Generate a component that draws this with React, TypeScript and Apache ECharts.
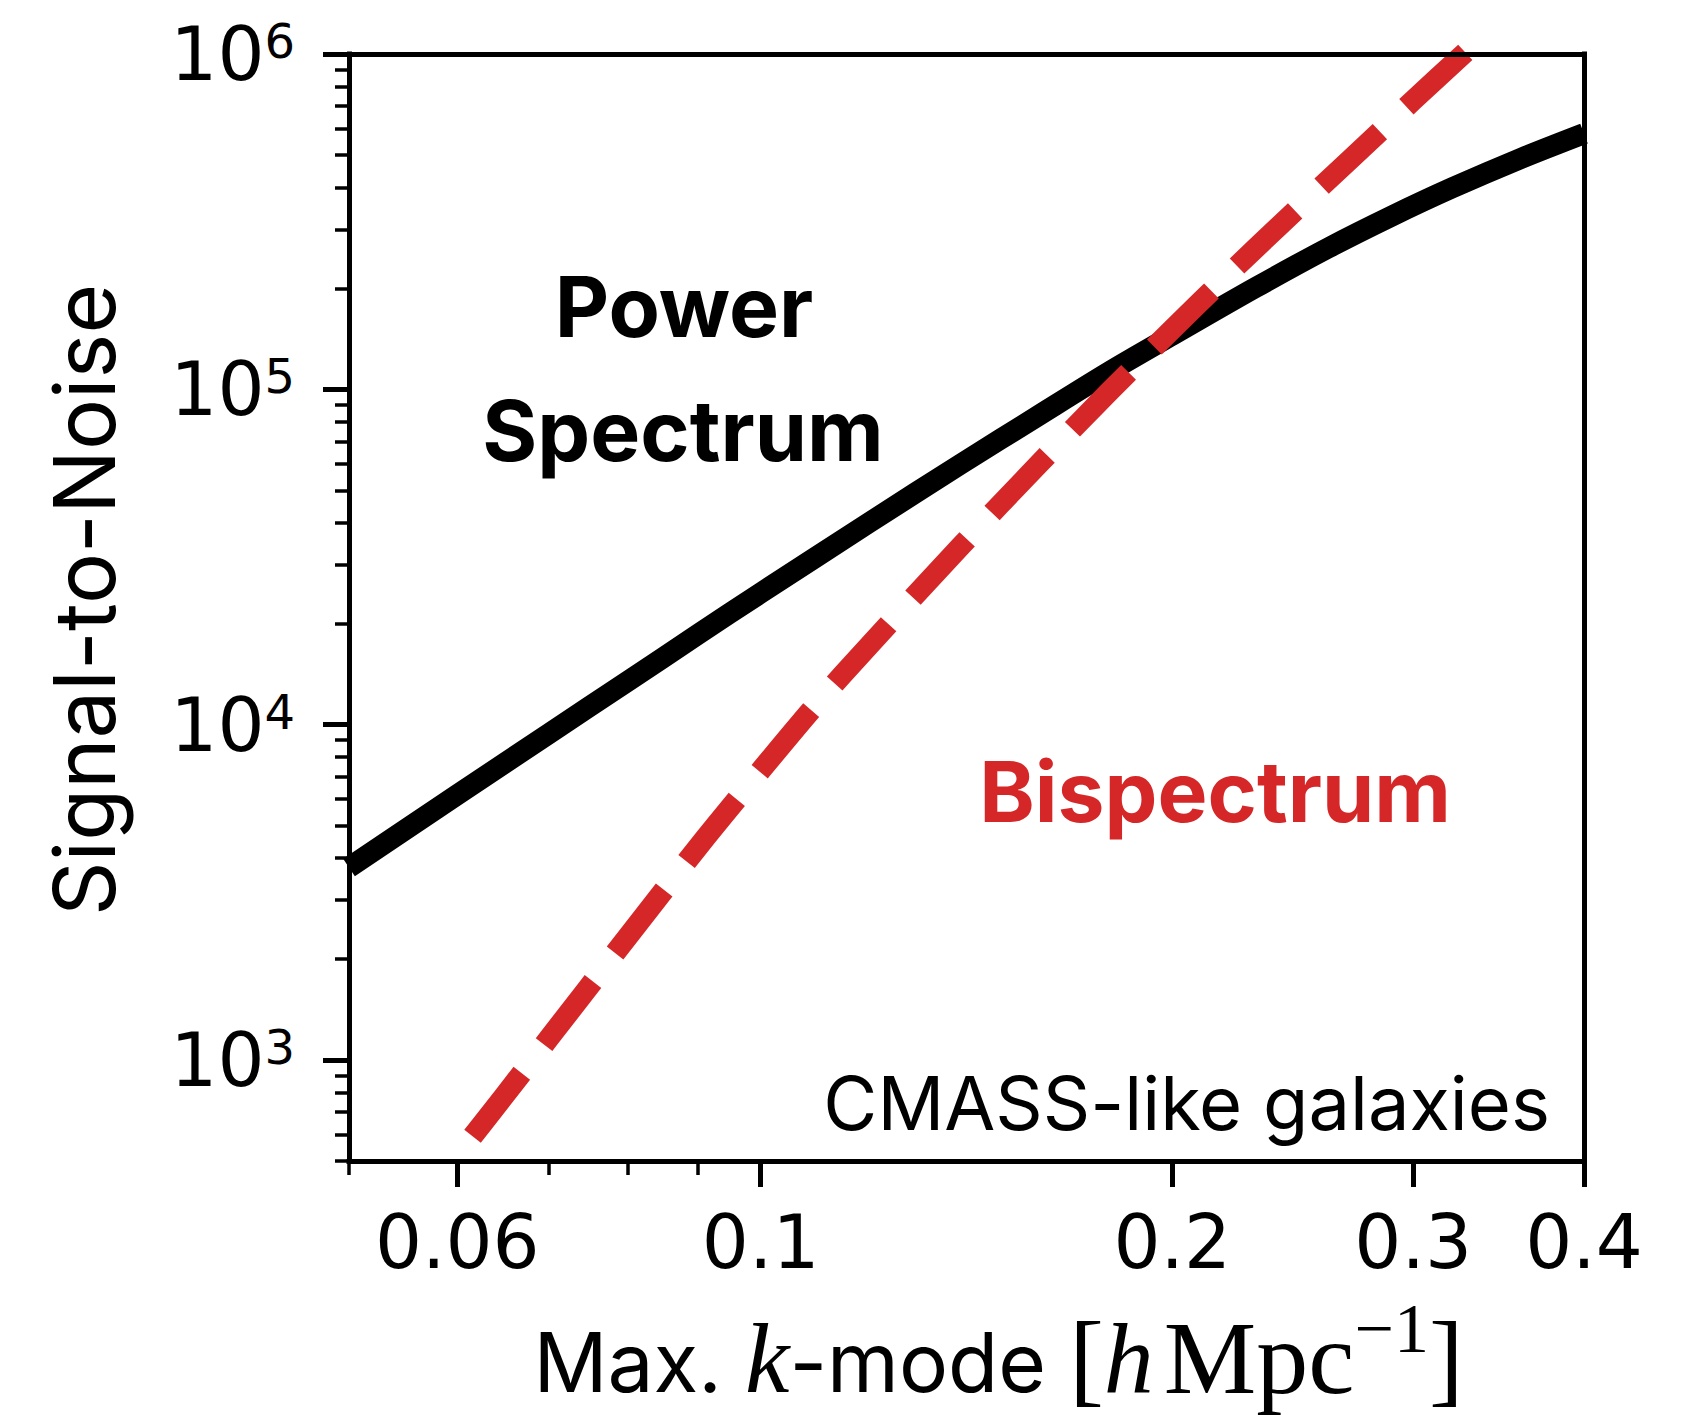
import { useEffect, useRef } from 'react';
import * as echarts from 'echarts';

// Maximum k-mode [h/Mpc] and cumulative signal-to-noise of each statistic
const kPower = [0.05, 0.06, 0.07, 0.08, 0.09, 0.1, 0.12, 0.14, 0.16, 0.18, 0.2, 0.23, 0.26, 0.29, 0.32, 0.36, 0.4];
const snPower = [3750, 6180, 9400, 13500, 18600, 24700, 40000, 59800, 84000, 113000, 145000, 201000, 264000, 330000, 398000, 489000, 579000];

const kBispectrum = [0.0593, 0.065, 0.07, 0.08, 0.09, 0.1, 0.11, 0.12, 0.14, 0.16, 0.18, 0.2, 0.22, 0.24, 0.27, 0.3, 0.33];
const snBispectrum = [488, 786, 1160, 2340, 4320, 7300, 11600, 17200, 34000, 60300, 98800, 151000, 221000, 310000, 486000, 727000, 1040000];

// Axis ticks
const xMajorTicks = [0.06, 0.1, 0.2, 0.3, 0.4];
const xMinorTicks = [0.05, 0.07, 0.08, 0.09];
const yMajorTicks = [1e3, 1e4, 1e5, 1e6];
const yMinorTicks = [
  500, 600, 700, 800, 900,
  2000, 3000, 4000, 5000, 6000, 7000, 8000, 9000,
  20000, 30000, 40000, 50000, 60000, 70000, 80000, 90000,
  200000, 300000, 400000, 500000, 600000, 700000, 800000, 900000,
];

const SANS = 'Inter';
const TICK_FONT = 'DejaVu Sans';
const SERIF = 'Liberation Serif';
const RED = '#d62728';
const INK = '#000';

export default function App() {
  const ref = useRef<HTMLDivElement>(null);

  useEffect(() => {
    const chart = echarts.init(ref.current!, undefined, { renderer: 'svg' });

    const left = 349;
    const top = 54;
    const right = 1584;
    const bottom = 1161;

    const logBase = {
      type: 'log',
      logBase: 10,
      gridIndex: 0,
      splitLine: { show: false },
      minorTick: { show: false },
      minorSplitLine: { show: false },
    };
    const xBase = { ...logBase, min: 0.05, max: 0.4 };
    const yBase = { ...logBase, min: 500, max: 1e6 };
    const spine = { show: true, lineStyle: { color: INK, width: 5, cap: 'square' } };
    const noLine = { show: false };
    const noLabel = { show: false };
    const noTick = { show: false };

    // x-axis title tokens share one bottom edge; bottom padding lifts each
    // baseline onto a common line and raises the exponent
    const titleLine = 117;

    const option = {
      animation: false,
      backgroundColor: '#fff',
      grid: {
        left,
        top,
        width: right - left,
        height: bottom - top,
        containLabel: false,
        outerBoundsMode: 'none',
      },
      xAxis: [
        {
          ...xBase,
          position: 'bottom',
          z: 10,
          axisLine: spine,
          axisTick: {
            show: true,
            customValues: xMajorTicks,
            length: 26,
            lineStyle: { color: INK, width: 5 },
          },
          axisLabel: {
            show: true,
            customValues: xMajorTicks,
            showMinLabel: true,
            showMaxLabel: true,
            formatter: (v: number) => String(v),
            fontFamily: TICK_FONT,
            fontSize: 74,
            lineHeight: 74,
            color: INK,
            margin: 44,
          },
          name: '{a|Max. }{k|k}{a|-mode }{r|[}{k|h}{m|Mpc}{s|\u22121}{r|]}',
          nameLocation: 'middle',
          nameGap: 131,
          nameTextStyle: {
            padding: [0, 0, 0, 64],
            rich: {
              a: { fontFamily: SANS, fontSize: 82, lineHeight: titleLine, verticalAlign: 'bottom', padding: [0, 0, 6, 0], color: INK },
              k: { fontFamily: SERIF, fontStyle: 'italic', fontSize: 100, lineHeight: titleLine, verticalAlign: 'bottom', padding: [0, 0, 1, 0], color: INK },
              r: { fontFamily: SERIF, fontSize: 104, lineHeight: titleLine, verticalAlign: 'bottom', color: INK },
              m: { fontFamily: SERIF, fontSize: 104, lineHeight: titleLine, verticalAlign: 'bottom', padding: [0, 0, 0, 10], color: INK },
              s: { fontFamily: SERIF, fontSize: 70, lineHeight: titleLine, verticalAlign: 'bottom', padding: [0, 0, 46, 0], color: INK },
            },
          },
        },
        {
          ...xBase,
          position: 'bottom',
          z: 10,
          axisLine: noLine,
          axisTick: {
            show: true,
            customValues: xMinorTicks,
            length: 14,
            lineStyle: { color: INK, width: 3.5 },
          },
          axisLabel: noLabel,
        },
        {
          ...xBase,
          position: 'top',
          z: 10,
          axisLine: spine,
          axisTick: noTick,
          axisLabel: noLabel,
        },
      ],
      yAxis: [
        {
          ...yBase,
          position: 'left',
          z: 10,
          axisLine: spine,
          axisTick: {
            show: true,
            customValues: yMajorTicks,
            length: 26,
            lineStyle: { color: INK, width: 5 },
          },
          axisLabel: {
            show: true,
            customValues: yMajorTicks,
            showMinLabel: true,
            showMaxLabel: true,
            margin: 54,
            color: INK,
            fontFamily: TICK_FONT,
            fontSize: 74,
            formatter: (v: number) => `{b|10}{e|${Math.round(Math.log10(v))}}`,
            rich: {
              b: { fontFamily: TICK_FONT, fontSize: 74, lineHeight: 74, verticalAlign: 'bottom', color: INK },
              e: { fontFamily: TICK_FONT, fontSize: 48, lineHeight: 36, verticalAlign: 'top', color: INK },
            },
          },
          name: 'Signal-to-Noise',
          nameLocation: 'middle',
          nameRotate: 90,
          nameGap: 222,
          nameTextStyle: {
            fontFamily: SANS,
            fontSize: 85,
            lineHeight: 85,
            color: INK,
            padding: [0, 0, 0, 15],
          },
        },
        {
          ...yBase,
          position: 'left',
          z: 10,
          axisLine: noLine,
          axisTick: {
            show: true,
            customValues: yMinorTicks,
            length: 14,
            lineStyle: { color: INK, width: 3.5 },
          },
          axisLabel: noLabel,
        },
        {
          ...yBase,
          position: 'right',
          z: 10,
          axisLine: spine,
          axisTick: noTick,
          axisLabel: noLabel,
        },
      ],
      series: [
        {
          name: 'Power Spectrum',
          type: 'line',
          xAxisIndex: 0,
          yAxisIndex: 0,
          data: kPower.map((k, i) => [k, snPower[i]]),
          showSymbol: false,
          symbol: 'none',
          smooth: 0.3,
          clip: true,
          lineStyle: { color: INK, width: 21, cap: 'butt', join: 'round' },
          z: 3,
        },
        {
          name: 'Bispectrum',
          type: 'line',
          xAxisIndex: 0,
          yAxisIndex: 0,
          data: kBispectrum.map((k, i) => [k, snBispectrum[i]]),
          showSymbol: false,
          symbol: 'none',
          smooth: 0.3,
          clip: true,
          lineStyle: { color: RED, width: 21, type: [80, 36], dashOffset: 80, cap: 'butt', join: 'round' },
          z: 4,
        },
      ],
      graphic: [
        {
          type: 'text',
          x: 684,
          y: 306,
          style: { text: 'Power', font: `bold 84px ${SANS}`, fill: INK, textAlign: 'center', textVerticalAlign: 'middle' },
        },
        {
          type: 'text',
          x: 683,
          y: 430,
          style: { text: 'Spectrum', font: `bold 84px ${SANS}`, fill: INK, textAlign: 'center', textVerticalAlign: 'middle' },
        },
        {
          type: 'text',
          x: 1215,
          y: 791,
          style: { text: 'Bispectrum', font: `bold 84px ${SANS}`, fill: RED, textAlign: 'center', textVerticalAlign: 'middle' },
        },
        {
          type: 'text',
          x: 1550,
          y: 1103,
          style: { text: 'CMASS-like galaxies', font: `74px ${SANS}`, fill: INK, textAlign: 'right', textVerticalAlign: 'middle' },
        },
      ],
    };

    chart.setOption(option as any);
    return () => chart.dispose();
  }, []);

  return (
    <div
      ref={ref}
      style={{ position: 'fixed', left: 0, top: 0, width: 1690, height: 1415, background: '#fff' }}
    />
  );
}
